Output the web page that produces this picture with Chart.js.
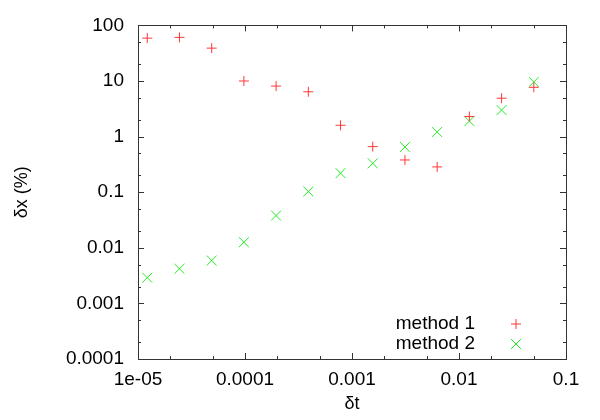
<!DOCTYPE html>
<html>
<head>
<meta charset="utf-8">
<script src="https://cdn.jsdelivr.net/npm/chart.js@4/dist/chart.umd.min.js"></script>
<style>
  html, body { margin: 0; padding: 0; background: #fff; }
  #wrap { width: 600px; height: 420px; }
</style>
</head>
<body>
<div id="wrap"><canvas id="errChart" width="600" height="420"></canvas></div>
<script>
// step sizes (dt)
const dtValues = [1.2207e-5, 2.4414e-5, 4.8828e-5, 9.7656e-5, 1.9531e-4, 3.9063e-4,
  7.8125e-4, 1.5625e-3, 3.125e-3, 6.25e-3, 0.0125, 0.025, 0.05];
// relative error dx (%) for each method
const method1 = [59, 61, 39, 10, 8.1, 6.4, 1.6, 0.66, 0.38, 0.285, 2.3, 4.9, 7.7];
const method2 = [0.0029, 0.0042, 0.0059, 0.0126, 0.038, 0.103, 0.22, 0.33, 0.65, 1.21, 1.9, 3.0, 9.6];
const seriesNames = ["method 1", "method 2"];
// tick labels
const xTickLabels = ["1e-05", "0.0001", "0.001", "0.01", "0.1"];
const yTickLabels = ["0.0001", "0.001", "0.01", "0.1", "1", "10", "100"];

const FONT = "'Liberation Sans', Arial, Helvetica, sans-serif";
const AXIS_COLOR = "#333333";

function toPoints(xs, ys) {
  return xs.map((x, i) => ({ x: x, y: ys[i] }));
}

const xTickVals = xTickLabels.map(Number);
const yTickVals = yTickLabels.map(Number);

// gnuplot style inward ticks on all four sides
const innerTicks = {
  id: "innerTicks",
  afterDraw(chart) {
    const ctx = chart.ctx;
    const a = chart.chartArea;
    const xs = chart.scales.x, ys = chart.scales.y;
    ctx.save();
    ctx.strokeStyle = AXIS_COLOR;
    ctx.lineWidth = 1;
    const drawX = (v, len) => {
      const px = Math.round(xs.getPixelForValue(v)) + 0.5;
      if (px < a.left || px > a.right + 1) return;
      ctx.beginPath();
      ctx.moveTo(px, a.bottom); ctx.lineTo(px, a.bottom - len);
      ctx.moveTo(px, a.top); ctx.lineTo(px, a.top + len);
      ctx.stroke();
    };
    const drawY = (v, len) => {
      const py = Math.round(ys.getPixelForValue(v)) + 0.5;
      if (py < a.top || py > a.bottom + 1) return;
      ctx.beginPath();
      ctx.moveTo(a.left, py); ctx.lineTo(a.left + len, py);
      ctx.moveTo(a.right, py); ctx.lineTo(a.right - len, py);
      ctx.stroke();
    };
    xTickVals.forEach(v => {
      drawX(v, 6);
      drawX(v * 2, 3);
      drawX(v * 5, 3);
    });
    yTickVals.forEach(v => {
      drawY(v, 6);
      drawY(v * 2, 3);
      drawY(v * 5, 3);
    });
    // frame
    ctx.strokeStyle = AXIS_COLOR;
    ctx.strokeRect(Math.round(a.left) + 0.5, Math.round(a.top) + 0.5,
      Math.round(a.right - a.left), Math.round(a.bottom - a.top));
    ctx.restore();
  }
};

// key in the lower right corner, text first then the marker
const keyBox = {
  id: "keyBox",
  afterDraw(chart) {
    const ctx = chart.ctx;
    const a = chart.chartArea;
    ctx.save();
    ctx.font = "19px " + FONT;
    ctx.textAlign = "right";
    ctx.textBaseline = "middle";
    chart.data.datasets.forEach((ds, i) => {
      const y = a.bottom - 35 + i * 20;
      ctx.fillStyle = "#000";
      ctx.fillText(ds.label, a.right - 91, y);
      ctx.strokeStyle = ds.borderColor;
      ctx.fillStyle = ds.borderColor;
      Chart.helpers.drawPoint(ctx, {
        pointStyle: ds.pointStyle,
        radius: ds.pointRadius,
        rotation: 0,
        borderWidth: 1
      }, a.right - 50, y);
    });
    ctx.restore();
  }
};

function createErrorChart() {
  const ctx = document.getElementById("errChart").getContext("2d");
  new Chart(ctx, {
    type: "scatter",
    data: {
      datasets: [
        {
          label: seriesNames[0],
          data: toPoints(dtValues, method1),
          pointStyle: "cross",
          pointRadius: 5,
          pointHoverRadius: 5,
          borderColor: "#ff3838",
          backgroundColor: "#ff3838",
          borderWidth: 1,
          showLine: false
        },
        {
          label: seriesNames[1],
          data: toPoints(dtValues, method2),
          pointStyle: "crossRot",
          pointRadius: 7,
          pointHoverRadius: 7,
          borderColor: "#22ee22",
          backgroundColor: "#22ee22",
          borderWidth: 1,
          showLine: false
        }
      ]
    },
    options: {
      responsive: false,
      animation: false,
      layout: { padding: { top: 24, right: 34, left: 0, bottom: 0 } },
      scales: {
        x: {
          type: "logarithmic",
          min: 1e-5,
          max: 0.1,
          afterBuildTicks: (s) => { s.ticks = xTickVals.map(v => ({ value: v })); },
          afterFit: (s) => { s.height = 61; },
          grid: { display: false, drawTicks: false },
          border: { display: false },
          ticks: {
            color: "#000",
            padding: 9,
            autoSkip: false,
            maxRotation: 0,
            font: { family: FONT, size: 19 },
            callback: (v) => xTickLabels[xTickVals.indexOf(v)]
          },
          title: {
            display: true,
            text: "δt",
            color: "#000",
            padding: { top: 0, bottom: 5 },
            font: { family: FONT, size: 18 }
          }
        },
        y: {
          type: "logarithmic",
          min: 1e-4,
          max: 100,
          afterBuildTicks: (s) => { s.ticks = yTickVals.map(v => ({ value: v })); },
          afterFit: (s) => { s.width = 138; },
          grid: { display: false, drawTicks: false },
          border: { display: false },
          ticks: {
            color: "#000",
            padding: 14,
            autoSkip: false,
            font: { family: FONT, size: 19 },
            callback: (v) => yTickLabels[yTickVals.indexOf(v)]
          },
          title: {
            display: true,
            text: "δx (%)",
            color: "#000",
            padding: { top: 11, bottom: 0 },
            font: { family: FONT, size: 18 }
          }
        }
      },
      plugins: {
        legend: { display: false },
        tooltip: { enabled: false }
      }
    },
    plugins: [innerTicks, keyBox]
  });
}

createErrorChart();
</script>
</body>
</html>
